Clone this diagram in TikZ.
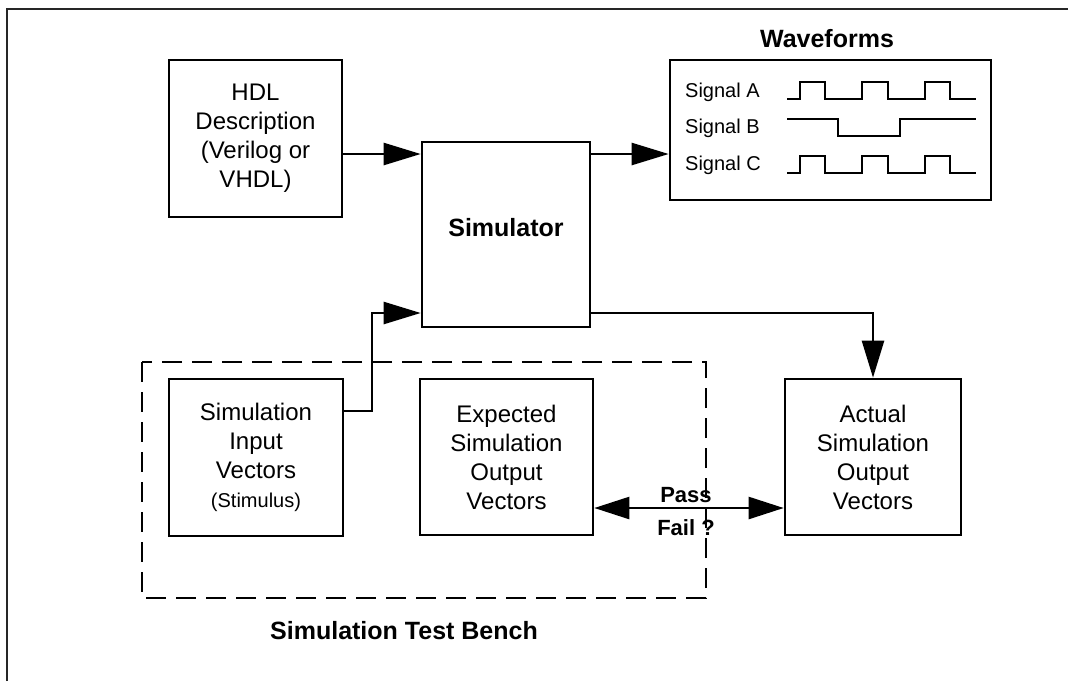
\documentclass[tikz,border=0pt]{standalone}
\usepackage{fontspec}
\setmainfont{Liberation Sans}
\usetikzlibrary{arrows.meta}
\tikzset{
  box/.style={draw, line width=2.6pt, inner sep=0pt, align=center,
    font=\fontsize{24}{29}\selectfont},
  conn/.style={line width=2.4pt},
  arr/.style={conn, -{Triangle[length=37pt,width=22pt]}},
  darr/.style={conn, {Triangle[length=35pt,width=22pt]}-{Triangle[length=35pt,width=22pt]}},
  boldlabel/.style={font=\fontsize{25}{30}\selectfont\bfseries, inner sep=0pt},
  passlabel/.style={font=\fontsize{22}{26}\selectfont\bfseries, inner sep=0pt},
  siglabel/.style={font=\fontsize{20}{24}\selectfont, inner sep=0pt, anchor=west},
  wave/.style={line width=2.6pt},
  benchbox/.style={line width=2.6pt, dash pattern=on 20pt off 10pt},
  frame/.style={line width=1.6pt, draw=black!85}
}
\begin{document}
\begin{tikzpicture}[x=1pt,y=-1pt]
\useasboundingbox (0,0) rectangle (1068,681);
% outer frame (top and left edges)
\draw[frame] (7,681) -- (7,9) -- (1068,9);

% boxes
\node[box, minimum width=173pt, minimum height=157pt] (hdl) at (255.5,138.5)
  {HDL\\Description\\(Verilog or\\VHDL)};
\node[box, minimum width=168pt, minimum height=185pt] (sim) at (506,234.5) {};
\node[boldlabel] (simlabel) at ([yshift=7pt]sim.center) {Simulator};
\node[box, minimum width=321pt, minimum height=140pt] (wave) at (830.5,130) {};
\node[boldlabel] (wavetitle) at (827,38.5) {Waveforms};

\node[box, minimum width=174pt, minimum height=157pt] (input) at (256,457.5)
  {Simulation\\Input\\Vectors\\{\fontsize{20}{24}\selectfont(Stimulus)}};
\node[box, minimum width=173pt, minimum height=156pt] (exp) at (506.5,457)
  {Expected\\Simulation\\Output\\Vectors};
\node[box, minimum width=176pt, minimum height=156pt] (act) at (873,457)
  {Actual\\Simulation\\Output\\Vectors};

% test bench
\draw[benchbox] (142,362) rectangle (706,598);
\node[boldlabel] (bench) at (404,631) {Simulation Test Bench};

% signal labels
\node[siglabel] (siga) at (685,92) {Signal A};
\node[siglabel] (sigb) at (685,128) {Signal B};
\node[siglabel] (sigc) at (685,165) {Signal C};

% waveforms
\draw[wave] (787,99) -- (800,99) -- (800,82) -- (825,82) -- (825,99) -- (862,99)
  -- (862,82) -- (888,82) -- (888,99) -- (925,99) -- (925,82) -- (950,82)
  -- (950,99) -- (976,99);
\draw[wave] (787,119) -- (838,119) -- (838,136) -- (900,136) -- (900,119) -- (976,119);
\draw[wave] (787,173) -- (800,173) -- (800,156) -- (825,156) -- (825,173) -- (862,173)
  -- (862,156) -- (888,156) -- (888,173) -- (925,173) -- (925,156) -- (950,156)
  -- (950,173) -- (976,173);

% connectors
\coordinate (ytop) at (0,154);
\coordinate (ybot) at (0,313);
\coordinate (yin) at (0,411);
\coordinate (xjog) at (372,0);
\coordinate (ypf) at (0,508);
\draw[arr] (hdl.east |- ytop) -- (sim.west |- ytop);
\draw[arr] (sim.east |- ytop) -- (wave.west |- ytop);
\draw[arr] (input.east |- yin) -- (xjog |- yin) -- (xjog |- ybot) -- (sim.west |- ybot);
\draw[arr] (sim.east |- ybot) -- (act.north |- ybot) -- (act.north);
\draw[darr] (exp.east |- ypf) -- (act.west |- ypf);
\node[passlabel] (pass) at (686,495) {Pass};
\node[passlabel] (fail) at (686,528) {Fail ?};
\end{tikzpicture}
\end{document}
